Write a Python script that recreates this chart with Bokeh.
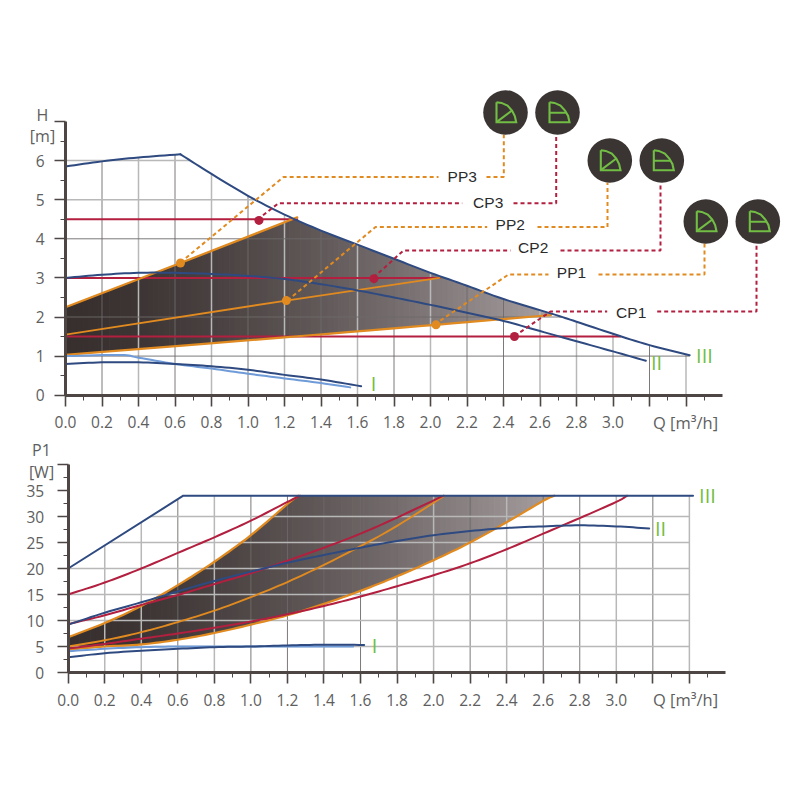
import numpy as np
from bokeh.plotting import figure
from bokeh.layouts import column
from bokeh.models import FixedTicker, Label
from bokeh.embed import file_html
from bokeh.resources import INLINE

# ---------- data: head chart ----------
Q_III_A = [0, .2, .4, .63]
H_III_A = [5.85, 5.98, 6.08, 6.16]
Q_III_B = [.63, .8, 1.0, 1.2, 1.4, 1.6, 1.8, 2.0, 2.2, 2.4, 2.667, 2.8, 3.0, 3.2, 3.42]
H_III_B = [6.16, 5.66, 5.1, 4.62, 4.21, 3.85, 3.49, 3.13, 2.8, 2.46, 2.08, 1.88, 1.57, 1.28, 1.02]
Q_II = [0, .2, .4, .6, .8, 1.0, 1.2, 1.4, 1.6, 1.8, 2.0, 2.2, 2.4, 2.6, 2.8, 3.0, 3.18]
H_II = [3.0, 3.08, 3.13, 3.13, 3.1, 3.05, 2.97, 2.84, 2.68, 2.5, 2.31, 2.11, 1.9, 1.64, 1.38, 1.12, .88]
Q_I = [0, .2, .4, .6, .8, 1.0, 1.2, 1.4, 1.62]
H_I = [.8, .84, .84, .8, .74, .65, .52, .4, .23]
Q_Ib = [0, .3, .4, .6, .8, 1.0, 1.2, 1.4, 1.56]
H_Ib = [1.0, 1.03, .96, .8, .68, .55, .43, .31, .2]
Q_PP3 = [0, .63, 1.27]
H_PP3 = [2.25, 3.38, 4.55]
Q_PP2 = [0, 1.21, 2.05]
H_PP2 = [1.55, 2.42, 3.0]
Q_PP1 = [0, 1.2, 2.03, 2.66]
H_PP1 = [1.03, 1.48, 1.8, 2.05]
CP_H = [4.5, 3.0, 1.5]
CP_END = [1.27, 2.05, 3.04]
DOT_OR_Q = [.63, 1.21, 2.03]
DOT_OR_H = [3.38, 2.42, 1.8]
DOT_RD_Q = [1.06, 1.69, 2.46]
DOT_RD_H = [4.47, 2.98, 1.5]

# ---------- data: power chart ----------
PQ_III = [0, .63, 3.42]
P_III = [20, 34, 34]
PQ_II = [0, .2, .4, .6, .8, 1.0, 1.2, 1.4, 1.6, 1.8, 2.0, 2.2, 2.4, 2.6, 2.8, 3.0, 3.18]
P_II = [9.2, 11.5, 13.5, 15.6, 17.6, 19.4, 21.1, 22.6, 24, 25.3, 26.4, 27.2, 27.8, 28.1, 28.3, 28.1, 27.7]
PQ_I = [0, .2, .4, .6, .8, 1.0, 1.2, 1.4, 1.62]
P_I = [2.95, 3.7, 4.2, 4.55, 4.87, 5.0, 5.2, 5.35, 5.3]
PQ_Ib = [0, .2, .4, .6, .8, 1.0, 1.2, 1.56]
P_Ib = [4.1, 4.55, 4.87, 5, 5, 5, 5, 5]
PQ_CP3 = [0, .2, .4, .6, .8, 1.0, 1.2, 1.27]
P_CP3 = [15, 17.3, 20, 23, 26, 29.2, 32.8, 34]
PQ_CP2 = [0, .2, .4, .6, .8, 1.0, 1.2, 1.4, 1.6, 1.8, 2.055]
P_CP2 = [9.3, 11, 13, 14.9, 17, 19.1, 21.5, 24, 26.7, 29.8, 34]
PQ_CP1 = [0, .2, .4, .6, .8, 1.0, 1.2, 1.4, 1.6, 1.8, 2.0, 2.2, 2.4, 2.6, 2.8, 3.0, 3.06]
P_CP1 = [4.6, 5.5, 6.5, 7.5, 8.6, 9.8, 11.2, 12.8, 14.6, 16.6, 18.7, 21, 23.7, 26.7, 29.7, 32.8, 34]
PQ_PP3 = [0, .2, .4, .6, .8, 1.0, 1.2, 1.26]
P_PP3 = [6.8, 9.5, 12.8, 16.8, 21.3, 26.4, 32.4, 34]
PQ_PP2 = [0, .2, .4, .6, .8, 1.0, 1.2, 1.4, 1.6, 1.8, 2.06]
P_PP2 = [5, 6.2, 7.75, 9.7, 11.9, 14.5, 17.4, 20.7, 24.3, 28.2, 34]
PQ_PP1 = [0, .2, .4, .6, .8, 1.0, 1.2, 1.4, 1.6, 1.8, 2.0, 2.2, 2.4, 2.6, 2.66]
P_PP1 = [4.4, 5, 5.4, 6.3, 7.6, 9.2, 11, 13.2, 15.7, 18.5, 21.6, 25, 28.9, 33, 34]

X_TICKS = [round(i * .2, 1) for i in range(18)]
X_LABELS = {t: f"{t:.1f}" for t in X_TICKS if t <= 3.0}
H_TICKS = list(range(8))
P_TICKS = list(range(0, 45, 5))
CALLOUTS = ["PP3", "CP3", "PP2", "CP2", "PP1", "CP1"]

# ---------- style ----------
NAVY, RED, ORANGE, LIGHT = "#2e4a80", "#b21f3f", "#e08a20", "#6f9bd8"
GREEN, INK, AXC, TXT = "#72bd44", "#3a3533", "#4d4644", "#5e5e5e"
FONT = "Open Sans"
DARKG = ("#6d6a69", 0.9)
GRAYG = ("#b8b8b8", 1.5)
SHADE0, SHADE1 = np.array([0x38, 0x30, 0x2f]), np.array([0xa8, 0xa0, 0xa1])
PAGE_W = 784


def make(height, x0_px, ppx, y0_px, ppy, standoff, yticks, yminor):
    p = figure(width=PAGE_W, height=height,
               x_range=(-x0_px / ppx, (PAGE_W - x0_px) / ppx),
               y_range=((y0_px - height) / ppy, y0_px / ppy),
               output_backend="svg", toolbar_location=None,
               min_border=0)
    p.outline_line_color = None
    p.grid.visible = False
    xa, ya = p.xaxis[0], p.yaxis[0]
    xa.fixed_location = 0
    ya.fixed_location = 0
    xa.bounds = (0, 3.6)
    ya.bounds = (0, yticks[-1])
    xa.ticker = FixedTicker(ticks=X_TICKS, minor_ticks=[round(i * .1, 1) for i in range(36)])
    xa.major_label_overrides = {t: X_LABELS.get(t, "") for t in X_TICKS}
    ya.ticker = FixedTicker(ticks=yticks, minor_ticks=yminor)
    ya.major_label_overrides = {t: ("" if t == yticks[-1] else str(t)) for t in yticks}
    for a, s in ((xa, 10), (ya, standoff)):
        a.axis_line_color = AXC
        a.axis_line_width = 3
        a.major_tick_line_color = AXC
        a.minor_tick_line_color = AXC
        a.major_tick_line_width = 1.6
        a.minor_tick_line_width = 1
        a.major_tick_in = 0
        a.minor_tick_in = 0
        a.major_tick_out = 11
        a.minor_tick_out = 5
        a.major_label_standoff = s
        a.major_label_text_font = FONT
        a.major_label_text_font_size = "15.5px"
        a.major_label_text_color = TXT
    return p


def put(p, x, y, text, size=15.5, color=TXT, font=FONT):
    p.add_layout(Label(x=x, y=y, text=text, text_font=font, text_font_size=f"{size}px",
                       text_color=color, text_align="center", text_baseline="middle"))


def smooth(x, y, n=8):
    """Catmull-Rom path through the read points, only to draw them without kinks."""
    x, y = np.asarray(x, float), np.asarray(y, float)
    if len(x) < 4:
        return x, y
    px = np.r_[2 * x[0] - x[1], x, 2 * x[-1] - x[-2]]
    py = np.r_[2 * y[0] - y[1], y, 2 * y[-1] - y[-2]]
    ox, oy = [], []
    for i in range(1, len(px) - 2):
        t = np.linspace(0, 1, n, endpoint=False)
        for arr, out in ((px, ox), (py, oy)):
            a, b, c, d = arr[i - 1], arr[i], arr[i + 1], arr[i + 2]
            out.extend(.5 * (2 * b + (c - a) * t + (2 * a - 5 * b + 4 * c - d) * t ** 2 + (3 * b - a - 3 * c + d) * t ** 3))
    ox.append(x[-1])
    oy.append(y[-1])
    return np.array(ox), np.array(oy)


def shade(p, qs, upx, upy, lox, loy):
    xs, ys, cs = [], [], []
    qmax = qs[-1]
    up = lambda q: np.interp(q, upx, upy)
    lo = lambda q: np.interp(q, lox, loy)
    for a, b in zip(qs[:-1], qs[1:]):
        xs.append([a, b + .004, b + .004, a])
        ys.append([up(a), up(b), lo(b), lo(a)])
        c = SHADE0 + (SHADE1 - SHADE0) * (a / qmax) ** 1.5
        cs.append("#%02x%02x%02x" % tuple(int(v) for v in c))
    p.patches(xs, ys, fill_color=cs, line_color=None)


def curve(p, x, y, color, w=2.0):
    sx, sy = smooth(x, y)
    p.line(sx, sy, line_color=color, line_width=w, line_join="round", line_cap="round")


def grids(p, items):
    for x0, y0, x1, y1, st in items:
        p.line([x0, x1], [y0, y1], line_color=st[0], line_width=st[1])


# ================= head chart =================
X0, PX, Y0, PY = 65.0, 182.5, 394.7, 39.1
OFF = 436
top = make(OFF, X0, PX, Y0, PY, 10, H_TICKS, [i * .5 for i in range(14)])
qx = lambda v: (v - X0) / PX
hy = lambda v: (Y0 - v) / PY

sbx, sby = smooth(Q_III_B, H_III_B)
Q_III = list(Q_III_A[:-1]) + list(sbx)
H_III = list(H_III_A[:-1]) + list(sby)
tail = sbx > Q_PP3[-1]
shade(top, np.linspace(0, Q_PP1[-1], 90),
      Q_PP3 + list(sbx[tail]), H_PP3 + list(sby[tail]), Q_PP1, H_PP1)

V_STYLE_T = {.2: DARKG, .4: GRAYG, .6: DARKG, .8: GRAYG, 1.0: DARKG, 1.2: GRAYG, 1.4: DARKG, 1.6: GRAYG, 1.8: DARKG,
             2.0: GRAYG, 2.2: DARKG, 2.4: DARKG, 2.6: GRAYG, 2.8: GRAYG, 3.0: GRAYG, 3.2: DARKG, 3.4: GRAYG}
H_STYLE_T = {1: DARKG, 2: DARKG, 3: DARKG, 4: DARKG, 5: GRAYG, 6: GRAYG}
items = [(q, 0, q, float(np.interp(q, Q_III, H_III)), V_STYLE_T[q]) for q in X_TICKS[1:]]
items += [(0, h, float(np.interp(h, sby[::-1], sbx[::-1])), h, H_STYLE_T[h]) for h in H_TICKS[1:7]]
grids(top, items)

for h, e in zip(CP_H, CP_END):
    curve(top, [0, e], [h, h], RED, 2.0)
curve(top, Q_PP2, H_PP2, ORANGE, 1.9)
curve(top, Q_PP3, H_PP3, ORANGE, 2.2)
curve(top, Q_PP1, H_PP1, ORANGE, 2.2)
curve(top, Q_Ib, H_Ib, LIGHT, 2.0)
curve(top, Q_I, H_I, NAVY, 2.0)
curve(top, Q_II, H_II, NAVY, 2.0)
curve(top, Q_III_A, H_III_A, NAVY, 2.0)
curve(top, Q_III_B, H_III_B, NAVY, 2.0)
top.scatter(DOT_OR_Q, DOT_OR_H, size=9, fill_color=ORANGE, line_color=None)
top.scatter(DOT_RD_Q, DOT_RD_H, size=9, fill_color=RED, line_color=None)

# leaders (page pixels -> chart units)
LEADERS = [
    (ORANGE, [(180, 262), (283, 176.5), (438, 176.5)], [(486, 176.5), (503.3, 176.5), (503.3, 134)]),
    (RED, [(257, 219), (278, 202.7), (461.7, 202.7)], [(513, 202.7), (555.7, 202.7), (555.7, 134)]),
    (ORANGE, [(287, 300), (375, 226.5), (486.7, 226.5)], [(537, 226.5), (607, 226.5), (607, 182)]),
    (RED, [(373, 277), (403, 250), (510, 250)], [(560, 250), (660, 250), (660, 182)]),
    (ORANGE, [(434, 324), (508, 274), (548, 274)], [(598, 274), (704, 274), (704, 243)]),
    (RED, [(514, 335.5), (550, 311), (606.7, 311)], [(656.7, 311), (756, 311), (756, 243)]),
]
for color, a, b in LEADERS:
    for seg in (a, b):
        top.line([qx(s[0]) for s in seg], [hy(s[1]) for s in seg], line_color=color,
                 line_width=2, line_dash="4 3")
LABEL_POS = [(461.7, 176), (487.7, 202), (509.7, 224), (532.7, 247), (571, 272), (630.7, 311.5)]
for t, (x, y) in zip(CALLOUTS, LABEL_POS):
    put(top, qx(x), hy(y), t, 15.5, "#2b2b2b", "Liberation Sans")

# round badges with sector icons
BADGES = [(505, 112, 0), (557, 112, 1), (609.3, 160, 0), (661.3, 160, 1), (705.3, 221, 0), (757.3, 221, 1)]
top.scatter([qx(b[0]) for b in BADGES], [hy(b[1]) for b in BADGES], size=44.6, fill_color=INK, line_color=None)
OUT_L = [(-9, -10.3), (-9, 9.7), (10.7, 9.7), (9.3, 3.5), (6.5, -2), (2, -7), (-4, -9.6), (-9, -10.3)]
OUT_R = [(-8, -10.3), (-8, 9.7), (12, 9.7), (10.6, 3.5), (7.5, -2), (3, -7), (-3, -9.6), (-8, -10.3)]
for cx, cy, kind in BADGES:
    shape = OUT_R if kind else OUT_L
    inner = [(-8, 0.3), (9, 0.3)] if kind else [(-9, 9.7), (6.5, -2)]
    for seg in (shape, inner):
        top.line([qx(cx + s[0]) for s in seg], [hy(cy + s[1]) for s in seg],
                 line_color=GREEN, line_width=2.1, line_join="miter")

put(top, qx(42), hy(114), "H", 16)
put(top, qx(42), hy(135), "[m]", 16)
put(top, qx(685), hy(422), "Q [m³/h]", 16.5)
put(top, qx(373), hy(383), "I", 20, GREEN)
put(top, qx(656), hy(362), "II", 20, GREEN)
put(top, qx(704), hy(355), "III", 20, GREEN)

# ================= power chart =================
X1, PX1, PY1 = 67.7, 182.7, 5.2
Y1 = 672.0 - OFF   # baseline measured from this figure's top edge
bot = make(730 - OFF, X1, PX1, Y1, PY1, 13, P_TICKS, [i * 2.5 for i in range(16)])
qx1 = lambda v: (v - X1) / PX1
wy = lambda v: (Y1 - (v - OFF)) / PY1

spx, spy = smooth(PQ_PP3, P_PP3)
slx, sly = smooth(PQ_PP1, P_PP1)
shade(bot, np.linspace(0, PQ_PP1[-1], 90), list(spx) + [PQ_PP1[-1]], list(spy) + [34], slx, sly)

V_STYLE_B = {.2: GRAYG, .4: GRAYG, .6: DARKG, .8: GRAYG, 1.0: DARKG, 1.2: DARKG, 1.4: DARKG, 1.6: DARKG, 1.8: DARKG,
             2.0: GRAYG, 2.2: DARKG, 2.4: GRAYG, 2.6: DARKG, 2.8: DARKG, 3.0: GRAYG, 3.2: DARKG, 3.4: GRAYG}
items = [(q, 0, q, float(np.interp(q, PQ_III, P_III)), V_STYLE_B[q]) for q in X_TICKS[1:]]
items += [(float(np.interp(w, P_III[:2], PQ_III[:2])), w, 3.4, w, GRAYG) for w in P_TICKS[1:7]]
grids(bot, items)

curve(bot, PQ_PP2, P_PP2, ORANGE, 1.9)
curve(bot, PQ_PP3, P_PP3, ORANGE, 2.2)
curve(bot, PQ_PP1, P_PP1, ORANGE, 2.2)
curve(bot, PQ_CP3, P_CP3, RED, 2.0)
curve(bot, PQ_CP2, P_CP2, RED, 2.0)
curve(bot, PQ_CP1, P_CP1, RED, 2.0)
curve(bot, PQ_Ib, P_Ib, LIGHT, 2.0)
curve(bot, PQ_I, P_I, NAVY, 2.0)
curve(bot, PQ_II, P_II, NAVY, 2.0)
curve(bot, PQ_III, P_III, NAVY, 2.0)

put(bot, qx1(41), wy(449), "P1", 16)
put(bot, qx1(41), wy(471), "[W]", 16)
put(bot, qx1(685), wy(699), "Q [m³/h]", 16.5)
put(bot, qx1(374), wy(645), "I", 20, GREEN)
put(bot, qx1(660), wy(528), "II", 20, GREEN)
put(bot, qx1(707), wy(495), "III", 20, GREEN)

page = column(top, bot, spacing=0)
open("out.html", "w").write(file_html(page, INLINE))
